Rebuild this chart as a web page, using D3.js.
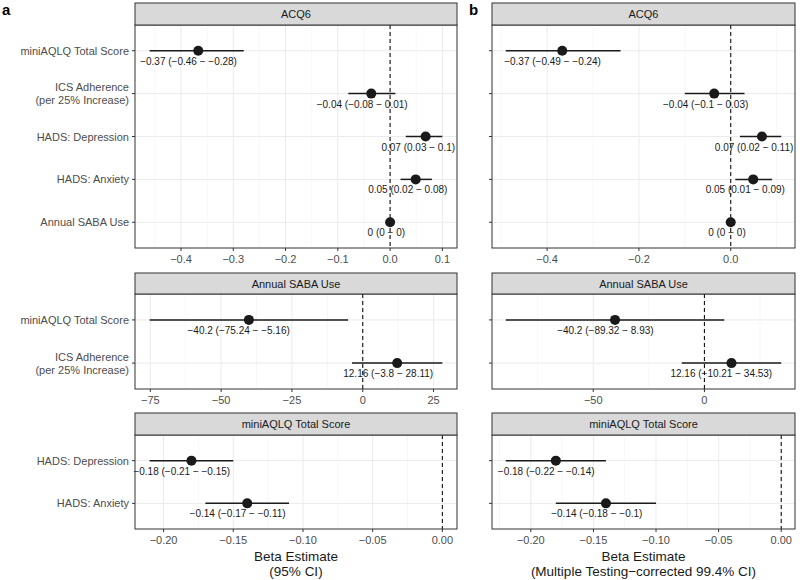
<!DOCTYPE html>
<html>
<head>
<meta charset="utf-8">
<script src="https://cdn.jsdelivr.net/npm/d3@7"></script>
<style>
  body { margin: 0; background: #fff; }
  text { font-family: "Liberation Sans", Arial, sans-serif; }
</style>
</head>
<body>
<script>
// outcomes / predictors
var acqCats = ["miniAQLQ Total Score", "ICS Adherence\n(per 25% Increase)", "HADS: Depression", "HADS: Anxiety", "Annual SABA Use"];
var acqEst = [-0.367, -0.036, 0.068, 0.049, 0];
var acqLoA = [-0.46, -0.08, 0.03, 0.02, 0];
var acqHiA = [-0.28, 0.01, 0.1, 0.08, 0];
var acqLoB = [-0.49, -0.1, 0.02, 0.01, 0];
var acqHiB = [-0.24, 0.03, 0.11, 0.09, 0];

var sabaCats = ["miniAQLQ Total Score", "ICS Adherence\n(per 25% Increase)"];
var sabaEst = [-40.2, 12.16];
var sabaLoA = [-75.24, -3.8];
var sabaHiA = [-5.16, 28.11];
var sabaLoB = [-89.32, -10.21];
var sabaHiB = [8.93, 34.53];

var aqlqCats = ["HADS: Depression", "HADS: Anxiety"];
var aqlqEst = [-0.18, -0.14];
var aqlqLoA = [-0.21, -0.17];
var aqlqHiA = [-0.15, -0.11];
var aqlqLoB = [-0.22, -0.18];
var aqlqHiB = [-0.14, -0.1];

var ticksTopA = [-0.4, -0.3, -0.2, -0.1, 0, 0.1];
var ticksTopB = [-0.4, -0.2, 0];
var ticksMidA = [-75, -50, -25, 0, 25];
var ticksMidB = [-50, 0];
var ticksBot = [-0.2, -0.15, -0.1, -0.05, 0];

var width = 800, height = 580;
var colA = [135, 457], colB = [492, 795];
var rows = [
  {strip: 3, top: 25, bottom: 248},
  {strip: 273, top: 294, bottom: 389},
  {strip: 413, top: 435, bottom: 529}
];

var svg = d3.select("body").append("svg")
    .attr("width", width)
    .attr("height", height);

function fmtNum(v) {
  var s = String(+v.toFixed(2));
  return s.replace("-", "\u2212");
}

function facet(col, row, title, cats, est, lo, hi, ticks, tickFmt, showY) {
  var g = svg.append("g");
  var ext = d3.extent(lo.concat(hi).concat([0]));
  var pad = (ext[1] - ext[0]) * 0.05;
  var x = d3.scaleLinear().domain([ext[0] - pad, ext[1] + pad]).range(col);
  var y = d3.scaleLinear().domain([0.4, cats.length + 0.6]).range([row.top, row.bottom]);

  // minor grid
  var step = ticks[1] - ticks[0];
  var minors = [];
  for (var i = -1; i < ticks.length; i++) {
    var m = ticks[0] + step * (i + 0.5);
    if (m > x.domain()[0] && m < x.domain()[1]) minors.push(m);
  }
  g.selectAll(".minor").data(minors).join("line")
    .attr("x1", d => x(d)).attr("x2", d => x(d))
    .attr("y1", row.top).attr("y2", row.bottom)
    .attr("stroke", "#f2f2f2").attr("stroke-width", 0.6);
  g.selectAll(".major").data(ticks).join("line")
    .attr("x1", d => x(d)).attr("x2", d => x(d))
    .attr("y1", row.top).attr("y2", row.bottom)
    .attr("stroke", "#ebebeb").attr("stroke-width", 1);
  g.selectAll(".hgrid").data(cats).join("line")
    .attr("x1", col[0]).attr("x2", col[1])
    .attr("y1", (d, i) => y(i + 1)).attr("y2", (d, i) => y(i + 1))
    .attr("stroke", "#ebebeb").attr("stroke-width", 1);

  // zero line
  g.append("line")
    .attr("x1", x(0)).attr("x2", x(0))
    .attr("y1", row.top).attr("y2", row.bottom)
    .attr("stroke", "#111").attr("stroke-width", 1.1)
    .attr("stroke-dasharray", "4,3");

  // CI + points
  var data = cats.map((c, i) => ({c: c, i: i, est: est[i], lo: lo[i], hi: hi[i]}));
  g.selectAll(".ci").data(data).join("line")
    .attr("x1", d => x(d.lo)).attr("x2", d => x(d.hi))
    .attr("y1", d => y(d.i + 1)).attr("y2", d => y(d.i + 1))
    .attr("stroke", "#1a1a1a").attr("stroke-width", 1.5);
  g.selectAll(".pt").data(data).join("circle")
    .attr("cx", d => x(d.est)).attr("cy", d => y(d.i + 1))
    .attr("r", 5).attr("fill", "#1a1a1a");
  g.selectAll(".lab").data(data).join("text")
    .attr("y", d => y(d.i + 1) + 14)
    .attr("font-size", 10).attr("fill", "#1a1a1a")
    .text(d => fmtNum(d.est) + " (" + fmtNum(d.lo) + " \u2212 " + fmtNum(d.hi) + ")")
    .attr("x", function(d) { return x(d.est) - 0.6 * this.getComputedTextLength(); });

  // frame
  g.append("rect")
    .attr("x", col[0]).attr("y", row.top)
    .attr("width", col[1] - col[0]).attr("height", row.bottom - row.top)
    .attr("fill", "none").attr("stroke", "#333").attr("stroke-width", 1);
  g.append("rect")
    .attr("x", col[0]).attr("y", row.strip)
    .attr("width", col[1] - col[0]).attr("height", row.top - row.strip)
    .attr("fill", "#d9d9d9").attr("stroke", "#333").attr("stroke-width", 1);
  g.append("text")
    .attr("x", (col[0] + col[1]) / 2).attr("y", (row.strip + row.top) / 2 + 4)
    .attr("text-anchor", "middle").attr("font-size", 11).attr("fill", "#1a1a1a")
    .text(title);

  // x axis
  var xa = g.append("g");
  xa.selectAll("line").data(ticks).join("line")
    .attr("x1", d => x(d)).attr("x2", d => x(d))
    .attr("y1", row.bottom).attr("y2", row.bottom + 3)
    .attr("stroke", "#333");
  xa.selectAll("text").data(ticks).join("text")
    .attr("x", d => x(d)).attr("y", row.bottom + 15)
    .attr("text-anchor", "middle").attr("font-size", 11).attr("fill", "#4d4d4d")
    .text(d => d3.format(tickFmt)(d).replace("-", "\u2212"));

  // y axis
  var ya = g.append("g");
  ya.selectAll("line").data(cats).join("line")
    .attr("x1", col[0] - 3).attr("x2", col[0])
    .attr("y1", (d, i) => y(i + 1)).attr("y2", (d, i) => y(i + 1))
    .attr("stroke", "#333");
  if (showY) {
    cats.forEach(function(c, i) {
      var lines = c.split("\n");
      var t = ya.append("text")
        .attr("text-anchor", "end").attr("font-size", 11).attr("fill", "#4d4d4d");
      lines.forEach(function(l, k) {
        t.append("tspan")
          .attr("x", col[0] - 6)
          .attr("y", y(i + 1) + 4 + (k - (lines.length - 1) / 2) * 13)
          .text(l);
      });
    });
  }
}

facet(colA, rows[0], "ACQ6", acqCats, acqEst, acqLoA, acqHiA, ticksTopA, ".1f", true);
facet(colB, rows[0], "ACQ6", acqCats, acqEst, acqLoB, acqHiB, ticksTopB, ".1f", false);
facet(colA, rows[1], "Annual SABA Use", sabaCats, sabaEst, sabaLoA, sabaHiA, ticksMidA, "d", true);
facet(colB, rows[1], "Annual SABA Use", sabaCats, sabaEst, sabaLoB, sabaHiB, ticksMidB, "d", false);
facet(colA, rows[2], "miniAQLQ Total Score", aqlqCats, aqlqEst, aqlqLoA, aqlqHiA, ticksBot, ".2f", true);
facet(colB, rows[2], "miniAQLQ Total Score", aqlqCats, aqlqEst, aqlqLoB, aqlqHiB, ticksBot, ".2f", false);

// axis titles
[[colA, ["Beta Estimate", "(95% CI)"]],
 [colB, ["Beta Estimate", "(Multiple Testing\u2212corrected 99.4% CI)"]]].forEach(function(p) {
  p[1].forEach(function(l, k) {
    svg.append("text")
      .attr("x", (p[0][0] + p[0][1]) / 2).attr("y", 561 + k * 15)
      .attr("text-anchor", "middle").attr("font-size", 13.5).attr("fill", "#1a1a1a")
      .text(l);
  });
});

// panel letters
svg.append("text").attr("x", 2).attr("y", 15).attr("font-size", 15).attr("font-weight", "bold").text("a");
svg.append("text").attr("x", 469).attr("y", 15).attr("font-size", 15).attr("font-weight", "bold").text("b");
</script>
</body>
</html>
